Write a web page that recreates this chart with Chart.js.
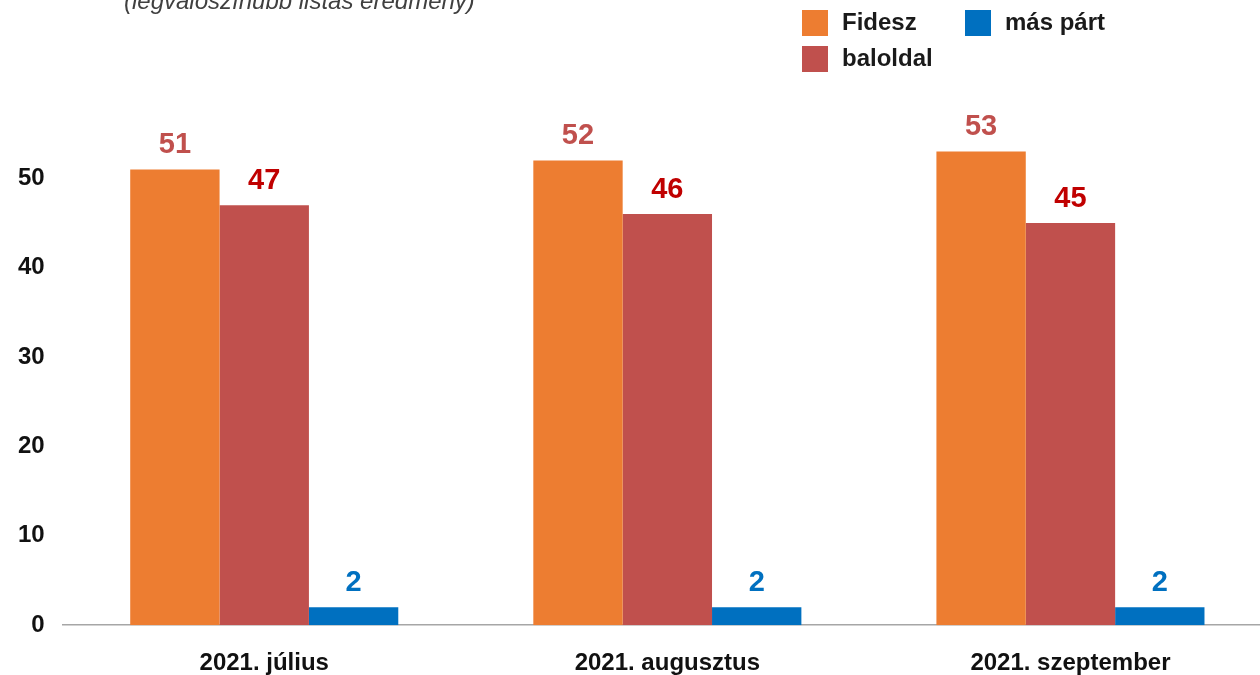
<!DOCTYPE html>
<html>
<head>
<meta charset="utf-8">
<script src="https://cdn.jsdelivr.net/npm/chart.js@4"></script>
<style>
  html, body { margin: 0; padding: 0; background: #fff; overflow: hidden; }
  body { width: 1260px; height: 675px; position: relative; font-family: "Liberation Sans", Arial, sans-serif; }
  #wrap { position: absolute; left: 0; top: 0; width: 1275px; height: 675px; }
  #subtitle { position: absolute; left: 124px; top: -13px; font-size: 24px; font-style: italic; color: #404040; white-space: nowrap; }
  .leg { position: absolute; font-size: 24px; font-weight: bold; color: #1a1a1a; white-space: nowrap; }
  .leg i { position: absolute; width: 26px; height: 26px; left: -40px; top: 2px; }
</style>
</head>
<body>
<div id="wrap"><canvas id="partyChart"></canvas></div>
<div id="subtitle">(legvalószínűbb listás eredmény)</div>
<div id="legend"></div>
<script>
// --- Data ---
const categories = ["2021. július", "2021. augusztus", "2021. szeptember"];
const fideszValues = [51, 52, 53];
const baloldalValues = [47, 46, 45];
const masPartValues = [2, 2, 2];
const yTicks = [0, 10, 20, 30, 40, 50];

const seriesNames = ["Fidesz", "baloldal", "más párt"];
const barColors = ["#ED7D31", "#C0504D", "#0070C0"];
const labelColors = ["#C0504D", "#C00000", "#0070C0"];

// --- Legend (two columns, top right) ---
const legendPos = [
    { left: 842, top: 8 },
    { left: 842, top: 44 },
    { left: 1005, top: 8 },
];
const legendEl = document.getElementById("legend");
seriesNames.forEach((name, i) => {
    const item = document.createElement("div");
    item.className = "leg";
    item.style.left = legendPos[i].left + "px";
    item.style.top = legendPos[i].top + "px";
    item.innerHTML = '<i style="background:' + barColors[i] + '"></i>' + name;
    legendEl.appendChild(item);
});

// value labels above each bar
const valueLabels = {
    id: "valueLabels",
    afterDatasetsDraw(chart) {
        const ctx = chart.ctx;
        ctx.save();
        ctx.font = "bold 29px 'Liberation Sans', Arial, sans-serif";
        ctx.textAlign = "center";
        ctx.textBaseline = "bottom";
        chart.data.datasets.forEach((ds, i) => {
            chart.getDatasetMeta(i).data.forEach((bar, j) => {
                ctx.fillStyle = labelColors[i];
                ctx.fillText(ds.data[j], bar.x, bar.y - 10);
            });
        });
        ctx.restore();
    },
};

const ctx = document.getElementById("partyChart").getContext("2d");
new Chart(ctx, {
    type: "bar",
    data: {
        labels: categories,
        datasets: [fideszValues, baloldalValues, masPartValues].map((vals, i) => ({
            label: seriesNames[i],
            data: vals,
            backgroundColor: barColors[i],
            borderWidth: 0,
            barPercentage: 1,
            categoryPercentage: 0.665,
        })),
    },
    options: {
        responsive: true,
        maintainAspectRatio: false,
        animation: false,
        layout: { padding: { top: 89, right: 3, left: 0, bottom: -27 } },
        plugins: {
            legend: { display: false },
            tooltip: { enabled: false },
        },
        scales: {
            x: {
                grid: { display: false, drawTicks: false },
                border: { display: true, color: "#A6A6A6", width: 1.5 },
                ticks: {
                    color: "#111",
                    padding: 24,
                    font: { family: "'Liberation Sans', Arial, sans-serif", size: 24, weight: "bold" },
                },
            },
            y: {
                min: 0,
                max: 60,
                afterBuildTicks: (axis) => {
                    axis.ticks = yTicks.map((v) => ({ value: v }));
                },
                grid: { display: false, drawTicks: false },
                border: { display: false },
                ticks: {
                    color: "#111",
                    padding: 18,
                    font: { family: "'Liberation Sans', Arial, sans-serif", size: 24, weight: "bold" },
                },
            },
        },
    },
    plugins: [valueLabels],
});
</script>
</body>
</html>
